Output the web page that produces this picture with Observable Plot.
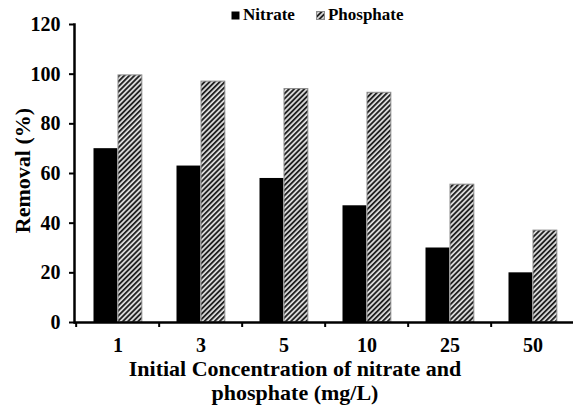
<!DOCTYPE html>
<html><head><meta charset="utf-8">
<script src="https://cdn.jsdelivr.net/npm/d3@7"></script>
<script src="https://cdn.jsdelivr.net/npm/@observablehq/plot@0.6"></script>
<style>
body{margin:0;background:#fff;font-family:'Liberation Serif','Times New Roman',serif;font-weight:bold;color:#000}
#wrap{width:573px;height:408px;position:relative;overflow:hidden;background:#fff}
#legend{position:absolute;top:6px;left:231px;display:flex;align-items:center;font-size:17px;line-height:18px;white-space:nowrap}
#legend .item{display:flex;align-items:center;margin-right:21px}
#legend svg{margin-right:3px}
#caption{text-align:center;font-size:22px;padding-left:17px;width:556px;padding-top:4px}
#caption div{height:18px;line-height:18px;margin-bottom:6px}
</style></head><body><div id="wrap"><div id="chart"></div><div id="caption"></div><div id="legend"></div></div>
<script>
const categories = ["1", "3", "5", "10", "25", "50"];
const nitrate = [70, 63, 58, 47, 30, 20];
const phosphate = [99.5, 97, 94, 92.5, 55.5, 37];
const seriesNames = ["Nitrate", "Phosphate"];
const yTicks = [0, 20, 40, 60, 80, 100, 120];
const xTitle = ["Initial Concentration of nitrate and", "phosphate (mg/L)"];
const yTitle = "Removal (%)";

const W = 573, H = 356, ML = 74, MR = -3;
const bw = (W - ML - MR) / categories.length;
const nitRows = categories.map((c, i) => ({conc: c, series: seriesNames[0], value: nitrate[i]}));
const phoRows = categories.map((c, i) => ({conc: c, series: seriesNames[1], value: phosphate[i]}));
const groupPad = 17.5, barW = 24.5;
const FONT = "'Liberation Serif', 'Times New Roman', serif";

const chart = Plot.plot({
  width: W, height: H,
  marginLeft: ML, marginRight: MR, marginTop: 24, marginBottom: 34,
  style: {fontFamily: FONT, fontWeight: "bold", fontSize: "20px", color: "black", background: "white", overflow: "visible"},
  x: {domain: categories, padding: 0, label: null},
  y: {domain: [0, 120], label: null},
  marks: [
    Plot.barY(nitRows, {x: "conc", y: "value", fill: "black", insetLeft: groupPad, insetRight: bw - groupPad - barW}),
    Plot.barY(phoRows, {x: "conc", y: "value", fill: "url(#diag)", stroke: "#8c8c8c", strokeWidth: 1, insetLeft: groupPad + barW, insetRight: bw - groupPad - 2 * barW}),
    Plot.axisX({tickSize: 0, tickPadding: 15, fontSize: 20, label: null}),
    Plot.axisX({tickSize: 5, tickFormat: () => "", dx: -bw / 2, strokeWidth: 2, label: null}),
    Plot.axisY({ticks: yTicks, tickSize: 5, tickPadding: 9, fontSize: 20, strokeWidth: 2, label: null}),
    Plot.text([yTitle], {frameAnchor: "left", rotate: -90, dx: -52, dy: -3, fontSize: 22, textAnchor: "middle", lineAnchor: "middle"}),
    Plot.ruleY([0], {strokeWidth: 2.5}),
    Plot.frame({anchor: "left", strokeWidth: 2.5})
  ]
});
d3.select(chart).insert("defs", ":first-child").html(
  '<pattern id="diag" patternUnits="userSpaceOnUse" width="3.6" height="3.6" patternTransform="rotate(45)">' +
  '<rect width="3.6" height="3.6" fill="#e2e2e2"/><rect width="1.9" height="3.6" fill="#222"/></pattern>'
);
document.getElementById("chart").appendChild(chart);

document.getElementById("caption").innerHTML = xTitle.map(t => `<div>${t}</div>`).join("");

const swatches = [
  {name: seriesNames[0], fill: "black", stroke: "none"},
  {name: seriesNames[1], fill: "url(#diag)", stroke: "#8c8c8c"}
];
document.getElementById("legend").innerHTML = swatches.map(s =>
  `<span class="item"><svg width="9" height="9"><rect x="0.5" y="0.5" width="8" height="8" fill="${s.fill}" stroke="${s.stroke}"/></svg>${s.name}</span>`
).join("");
</script></body></html>
